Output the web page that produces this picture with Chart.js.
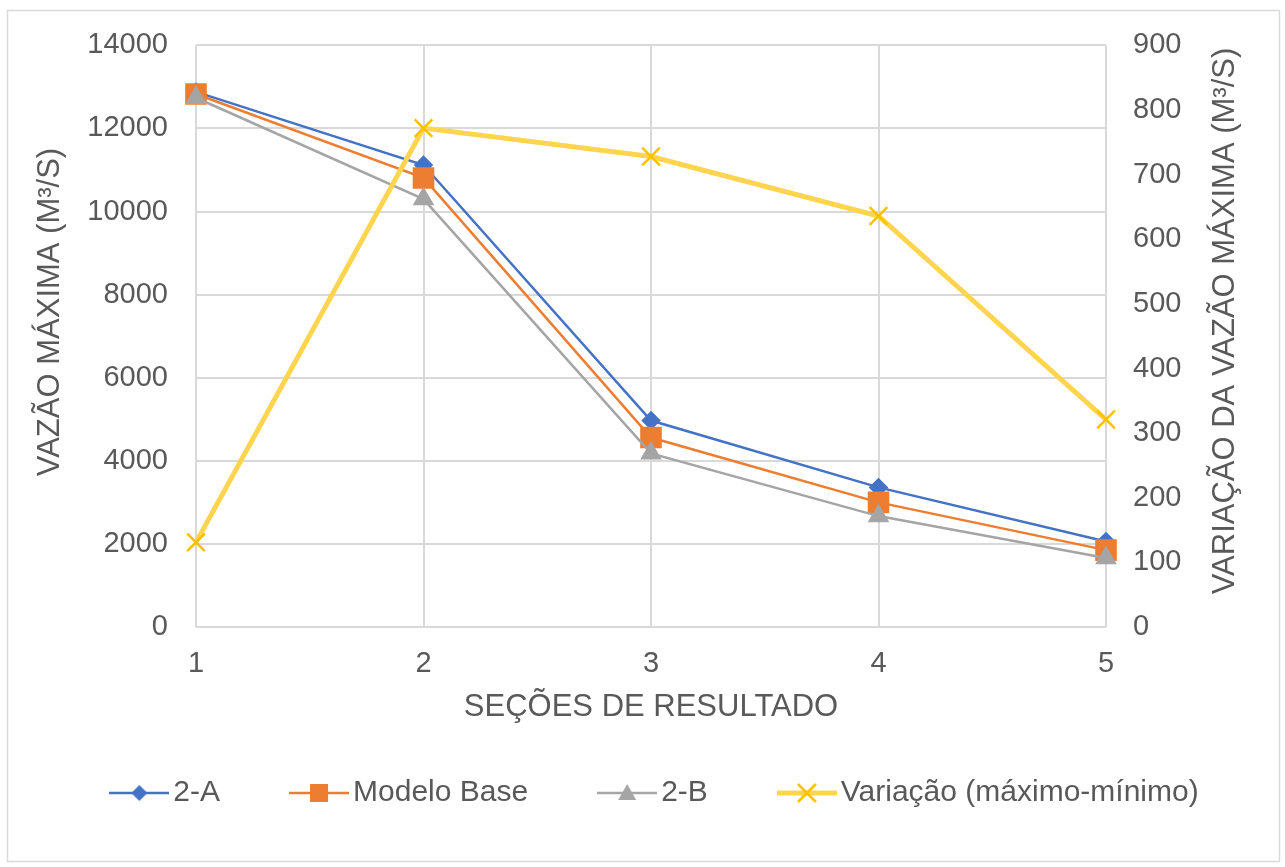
<!DOCTYPE html>
<html>
<head>
<meta charset="utf-8">
<script src="https://cdn.jsdelivr.net/npm/chart.js@4"></script>
<style>
  html, body { margin: 0; padding: 0; background: #ffffff; }
  canvas { display: block; }
</style>
</head>
<body>
<canvas id="chart" width="1285" height="867"></canvas>
<script>
// Result sections along the x axis
const sections = ['1', '2', '3', '4', '5'];

// Peak discharge per section (m³/s)
const serie2A = [12880, 11120, 4970, 3360, 2060];
const modeloBase = [12830, 10810, 4560, 3000, 1850];
const serie2B = [12740, 10300, 4180, 2670, 1660];

// Spread between highest and lowest peak discharge (m³/s)
const variacao = [131, 772, 728, 636, 321];

const FONT = 'Liberation Sans, Arial, sans-serif';
const FS = 29;        // tick labels
const FS_TITLE = 31;  // axis titles
const FS_LEGEND = 30; // legend entries
const TEXT = '#595959';
const GRID = '#d9d9d9';

// Legend swatch: short line with the series marker on top
function swatch(color, lineWidth, marker, markerColor) {
  const c = document.createElement('canvas');
  c.width = 60; c.height = 30;
  const g = c.getContext('2d');
  g.strokeStyle = color;
  g.lineWidth = lineWidth;
  g.beginPath(); g.moveTo(0, 15); g.lineTo(60, 15); g.stroke();
  g.fillStyle = markerColor; g.strokeStyle = markerColor;
  g.beginPath();
  if (marker === 'diamond') {
    g.moveTo(30, 7); g.lineTo(38, 15); g.lineTo(30, 23); g.lineTo(22, 15); g.closePath(); g.fill();
  } else if (marker === 'square') {
    g.rect(21, 6, 18, 18); g.fill();
  } else if (marker === 'triangle') {
    g.moveTo(30, 6); g.lineTo(39, 22); g.lineTo(21, 22); g.closePath(); g.fill();
  } else if (marker === 'x') {
    g.lineWidth = 2.5;
    g.moveTo(21, 6); g.lineTo(39, 24); g.moveTo(39, 6); g.lineTo(21, 24); g.stroke();
  }
  return c;
}

const swatches = [
  swatch('#4472c4', 2.5, 'diamond', '#4472c4'),
  swatch('#ed7d31', 2.5, 'square', '#ed7d31'),
  swatch('#a5a5a5', 2.5, 'triangle', '#a5a5a5'),
  swatch('#ffd54f', 5, 'x', '#ffc000')
];

// Frame and rotated / centered axis titles
const decorations = {
  id: 'decorations',
  beforeDraw(chart) {
    const ctx = chart.ctx;
    ctx.save();
    ctx.fillStyle = '#ffffff';
    ctx.fillRect(0, 0, chart.width, chart.height);
    ctx.strokeStyle = '#d9d9d9';
    ctx.lineWidth = 1.5;
    ctx.strokeRect(7.5, 10.5, 1272, 851);
    ctx.restore();
  },
  afterDraw(chart) {
    const ctx = chart.ctx;
    const title = (text, x, y, rotated) => {
      ctx.save();
      ctx.fillStyle = TEXT;
      ctx.font = FS_TITLE + 'px ' + FONT;
      ctx.textAlign = 'center';
      ctx.textBaseline = 'middle';
      ctx.translate(x, y);
      if (rotated) ctx.rotate(-Math.PI / 2);
      ctx.fillText(text, 0, 0);
      ctx.restore();
    };
    title('SEÇÕES DE RESULTADO', 651, 707, false);
    title('VAZÃO MÁXIMA (M³/S)', 50, 312, true);
    title('VARIAÇÃO DA VAZÃO MÁXIMA (M³/S)', 1225, 321, true);
  }
};

const plainTick = (v) => String(v);

new Chart(document.getElementById('chart'), {
  type: 'line',
  data: {
    labels: sections,
    datasets: [
      {
        label: '2-A', data: serie2A, yAxisID: 'y', order: 4,
        borderColor: '#4472c4', backgroundColor: '#4472c4', borderWidth: 2.5,
        pointStyle: 'rectRot', pointRadius: 8, pointHoverRadius: 8, tension: 0
      },
      {
        label: 'Modelo Base', data: modeloBase, yAxisID: 'y', order: 3,
        borderColor: '#ed7d31', backgroundColor: '#ed7d31', borderWidth: 2.5,
        pointStyle: 'rect', pointRadius: 13.5, pointHoverRadius: 13.5, tension: 0
      },
      {
        label: '2-B', data: serie2B, yAxisID: 'y', order: 2,
        borderColor: '#a5a5a5', backgroundColor: '#a5a5a5', borderWidth: 2.5,
        pointStyle: 'triangle', pointRadius: 10, pointHoverRadius: 10, tension: 0
      },
      {
        label: 'Variação (máximo-mínimo)', data: variacao, yAxisID: 'y1', order: 1,
        borderColor: '#ffd54f', backgroundColor: '#ffc000', borderWidth: 5,
        pointStyle: 'crossRot', pointRadius: 12.5, pointHoverRadius: 12.5,
        pointBorderColor: '#ffc000', pointBorderWidth: 2.5, tension: 0
      }
    ]
  },
  options: {
    responsive: false,
    animation: false,
    events: [],
    layout: { padding: { left: 34, right: 0, top: 44, bottom: 49 } },
    plugins: {
      tooltip: { enabled: false },
      legend: {
        position: 'bottom',
        labels: {
          usePointStyle: true,
          pointStyleWidth: 38,
          padding: 80,
          color: TEXT,
          font: { family: FONT, size: FS_LEGEND },
          generateLabels(chart) {
            return chart.data.datasets.map((ds, i) => ({
              text: ds.label,
              pointStyle: swatches[i],
              fontColor: TEXT,
              lineWidth: 0,
              strokeStyle: 'transparent',
              fillStyle: 'transparent',
              hidden: false,
              datasetIndex: i
            }));
          }
        }
      }
    },
    scales: {
      x: {
        type: 'category',
        offset: false,
        grid: { color: GRID, lineWidth: 2, drawTicks: false },
        border: { display: false },
        ticks: { color: TEXT, font: { family: FONT, size: FS }, padding: 20, maxRotation: 0 },
        afterFit(scale) { scale.height = 71; }
      },
      y: {
        position: 'left',
        min: 0, max: 14000,
        grid: { color: GRID, lineWidth: 2, drawTicks: false },
        border: { display: false },
        ticks: { stepSize: 2000, color: TEXT, font: { family: FONT, size: FS }, padding: 28, callback: plainTick },
        afterFit(scale) { scale.width = 162; }
      },
      y1: {
        position: 'right',
        min: 0, max: 900,
        grid: { display: false, drawTicks: false },
        border: { display: false },
        ticks: { stepSize: 100, color: TEXT, font: { family: FONT, size: FS }, padding: 27, callback: plainTick },
        afterFit(scale) { scale.width = 179; }
      }
    }
  },
  plugins: [decorations]
});
</script>
</body>
</html>
